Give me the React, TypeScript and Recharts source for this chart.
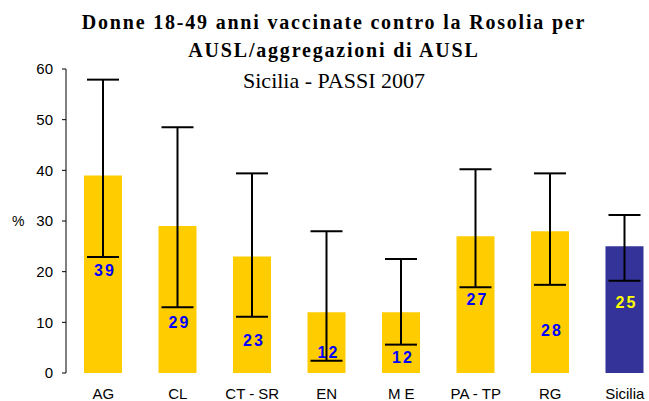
import { Bar, BarChart, Cell, ErrorBar, LabelList, XAxis, YAxis } from "recharts";

const categories = ["AG", "CL", "CT - SR", "EN", "M E", "PA - TP", "RG", "Sicilia"];
const values = [39, 29, 23, 12, 12, 27, 28, 25];
const lower = [22.9, 13.0, 11.1, 2.4, 5.6, 16.9, 17.4, 18.2];
const upper = [57.9, 48.5, 39.4, 28.0, 22.5, 40.2, 39.4, 31.2];
const yTicks = [0, 10, 20, 30, 40, 50, 60];

// where each value label sits inside its bar (in % units)
const labelAt = [20.3, 9.9, 6.5, 4.1, 3.0, 14.6, 8.5, 14.0];

const data = categories.map((name, i) => ({
  name,
  value: values[i],
  err: [values[i] - lower[i], upper[i] - values[i]],
}));

const ValueLabel = (props: any) => {
  const { x, y, width, height, index } = props;
  const v = values[index];
  const py = y + height - (labelAt[index] / v) * height;
  const isTotal = index === categories.length - 1;
  return (
    <text
      x={x + width / 2 + 2}
      y={py}
      dy="0.35em"
      textAnchor="middle"
      fill={isTotal ? "#FFFF00" : "#0000FF"}
      fontFamily="Liberation Sans, Arial, sans-serif"
      fontWeight="bold"
      fontSize={16}
      letterSpacing={2}
    >
      {v}
    </text>
  );
};

const tickStyle = { fill: "#000", fontSize: 15, fontFamily: "Liberation Sans, Arial, sans-serif" };

export default function App() {
  return (
    <div
      style={{
        position: "absolute",
        left: 0,
        top: 0,
        width: 649,
        height: 401,
        overflow: "hidden",
        background: "#fff",
      }}
    >
      <div
        style={{
          position: "absolute",
          left: 0,
          width: 668,
          top: 8,
          textAlign: "center",
          fontFamily: "Liberation Serif, Times New Roman, serif",
          fontWeight: "bold",
          fontSize: 20,
          letterSpacing: 1.8,
          lineHeight: "28px",
          color: "#000",
        }}
      >
        Donne 18-49 anni vaccinate contro la Rosolia per
        <br />
        AUSL/aggregazioni di AUSL
      </div>
      <div
        style={{
          position: "absolute",
          left: 0,
          width: 668,
          top: 67,
          textAlign: "center",
          fontFamily: "Liberation Serif, Times New Roman, serif",
          fontSize: 22,
          lineHeight: "28px",
          color: "#000",
        }}
      >
        Sicilia - PASSI 2007
      </div>
      <div
        style={{
          position: "absolute",
          left: 12,
          top: 213,
          fontFamily: "Liberation Sans, Arial, sans-serif",
          fontSize: 14,
          color: "#000",
        }}
      >
        %
      </div>
      <BarChart
        width={662}
        height={401}
        data={data}
        margin={{ top: 69, right: 0, bottom: 0, left: 0 }}
        barSize={38}
      >
        <YAxis
          width={66}
          domain={[0, 60]}
          ticks={yTicks}
          interval={0}
          tickSize={4}
          tickMargin={9}
          stroke="#000"
          tick={tickStyle}
        />
        <XAxis
          dataKey="name"
          height={28}
          axisLine={false}
          tickLine={false}
          tickSize={0}
          interval={0}
          tickMargin={15}
          tick={tickStyle}
        />
        <Bar dataKey="value" isAnimationActive={false}>
          {data.map((d, i) => (
            <Cell key={d.name} fill={i === data.length - 1 ? "#333399" : "#FFCC00"} />
          ))}
          <ErrorBar dataKey="err" direction="y" width={16} strokeWidth={2} stroke="#000" />
          <LabelList dataKey="value" content={ValueLabel} />
        </Bar>
      </BarChart>
    </div>
  );
}
